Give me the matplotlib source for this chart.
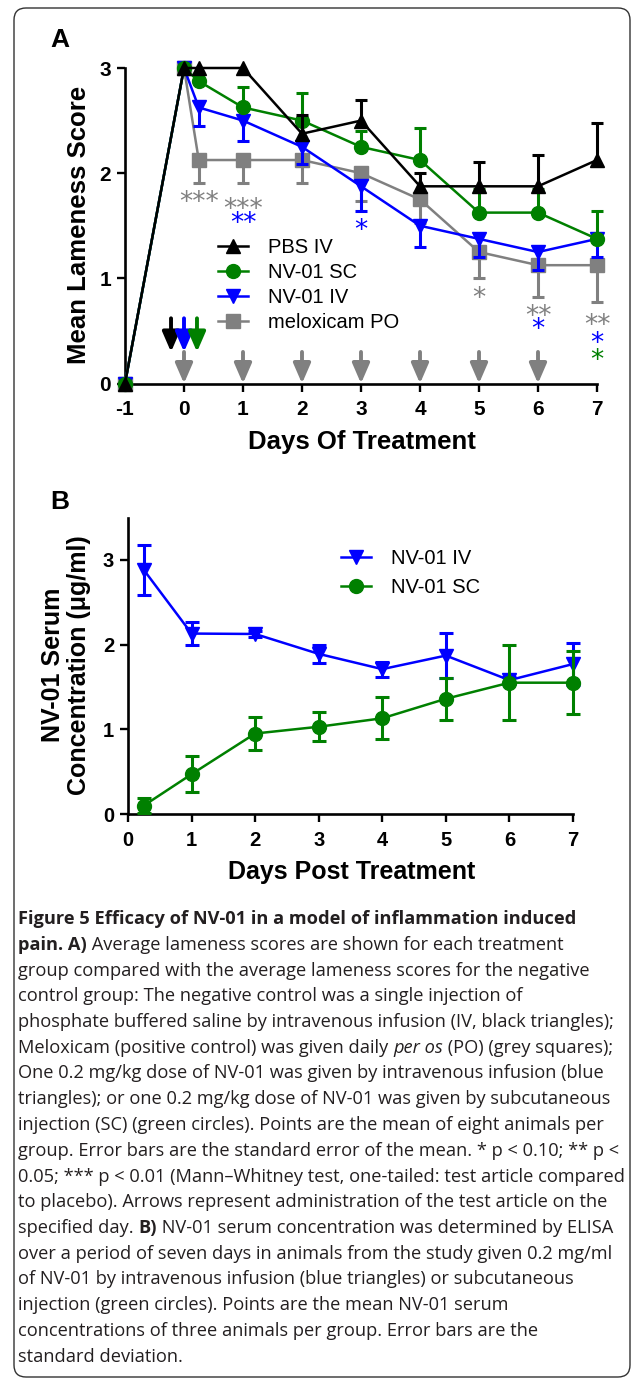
import matplotlib
matplotlib.use('Agg')
import matplotlib.pyplot as plt
from matplotlib.patches import FancyBboxPatch
from matplotlib.transforms import IdentityTransform
import numpy as np

plt.rcParams['font.family'] = ['Liberation Sans', 'DejaVu Sans']
plt.rcParams['axes.unicode_minus'] = False

# ---- panel A: mean lameness score (error = SEM, drawn one side only)
days_a = [-1, 0, 0.25, 1, 2, 3, 4, 5, 6, 7]
pbs_iv = [0, 3, 3, 3, 2.375, 2.5, 1.875, 1.875, 1.875, 2.125]
pbs_iv_err = [0, 0, 0, 0, 0.18, 0.2, 0.125, 0.23, 0.3, 0.35]
sc_a = [0, 3, 2.875, 2.625, 2.5, 2.25, 2.125, 1.625, 1.625, 1.375]
sc_a_err = [0, 0, 0, 0.19, 0.26, 0.15, 0.3, 0.22, 0.22, 0.27]
iv_a = [0, 3, 2.625, 2.5, 2.25, 1.875, 1.5, 1.375, 1.25, 1.375]
iv_a_err = [0, 0, 0.18, 0.19, 0.16, 0.23, 0.2, 0.17, 0.17, 0.17]
melox = [0, 3, 2.125, 2.125, 2.125, 2.0, 1.75, 1.25, 1.125, 1.125]
melox_err = [0, 0, 0.22, 0.22, 0.22, 0.26, 0.22, 0.25, 0.3, 0.35]

# significance marks: day, height, text, group
star_day = [0.25, 1, 1, 3, 5, 6, 6, 7, 7, 7]
star_y = [1.80, 1.73, 1.60, 1.53, 0.89, 0.72, 0.59, 0.63, 0.46, 0.30]
star_txt = ['***', '***', '**', '*', '*', '**', '*', '**', '*', '*']
star_grp = ['melox', 'melox', 'iv', 'iv', 'melox', 'melox', 'iv', 'melox', 'iv', 'sc']

# dosing arrows
melox_dose_days = [0, 1, 2, 3, 4, 5, 6]
single_dose_days = [-0.22, 0.0, 0.22]
single_dose_grp = ['pbs', 'iv', 'sc']

# ---- panel B: serum concentration (ug/ml, error = SD)
days_b = [0.25, 1, 2, 3, 4, 5, 6, 7]
iv_b = [2.88, 2.13, 2.125, 1.89, 1.71, 1.87, 1.58, 1.77]
iv_b_sd = [0.3, 0.14, 0.03, 0.11, 0.09, 0.27, 0.04, 0.25]
sc_b = [0.1, 0.47, 0.95, 1.03, 1.13, 1.36, 1.55, 1.55]
sc_b_sd = [0.09, 0.21, 0.19, 0.17, 0.25, 0.25, 0.44, 0.37]

colors = {'pbs': 'black', 'sc': '#008000', 'iv': '#0000ff', 'melox': '#808080'}

W, H = 633, 1381
fig = plt.figure(figsize=(W / 100, H / 100), dpi=100)


def add_ax(left, top, right, bottom):
    return fig.add_axes([left / W, 1 - bottom / H, (right - left) / W, (bottom - top) / H])


def style(ax, size):
    for s in ('top', 'right'):
        ax.spines[s].set_visible(False)
    for s in ('left', 'bottom'):
        ax.spines[s].set_linewidth(1.9)
    ax.tick_params(axis='both', width=1.7, length=6, direction='out', labelsize=size)
    ax.tick_params(axis='x', pad=6)
    ax.tick_params(axis='y', pad=4)
    for lab in ax.get_xticklabels() + ax.get_yticklabels():
        lab.set_fontweight('bold')


def one_sided(ax, x, y, err, up, color, z):
    x, y, err = np.asarray(x), np.asarray(y), np.asarray(err)
    m = err > 0
    end = y + err if up else y - err
    ax.vlines(x[m], y[m], end[m], color=color, lw=2.2, zorder=z, clip_on=False)
    ax.plot(x[m], end[m], ls='none', marker='_', ms=9, mew=2.2, color=color,
            zorder=z, clip_on=False)


# ================= panel A
axA = add_ax(125, 68, 597, 383.5)
axA.set_xlim(-1, 7)
axA.set_ylim(0, 3)
axA.set_xticks(range(-1, 8))
axA.set_yticks([0, 1, 2, 3])
style(axA, 15)

series_a = [
    ('meloxicam PO', melox, melox_err, False, 'melox', 's', 9.5),
    ('NV-01 IV', iv_a, iv_a_err, False, 'iv', 'v', 10.5),
    ('NV-01 SC', sc_a, sc_a_err, True, 'sc', 'o', 10),
    ('PBS IV', pbs_iv, pbs_iv_err, True, 'pbs', '^', 10.5),
]
handles = {}
for i, (lab, y, e, up, g, mk, ms) in enumerate(series_a):
    z = 3 + i
    one_sided(axA, days_a, y, e, up, colors[g], z)
    h, = axA.plot(days_a, y, color=colors[g], marker=mk, ms=ms, lw=1.8,
                  zorder=z, clip_on=False, label=lab)
    handles[lab] = h

order = ['PBS IV', 'NV-01 SC', 'NV-01 IV', 'meloxicam PO']
axA.legend([handles[k] for k in order], order, loc='upper left',
           bbox_to_anchor=(218 / W, 1 - 238 / H), bbox_transform=fig.transFigure,
           frameon=False, fontsize=14.5, handlelength=1.5, handletextpad=1.0,
           labelspacing=0.3, borderpad=0, borderaxespad=0)

for d, y, s, g in zip(star_day, star_y, star_txt, star_grp):
    axA.text(d, y - 0.15, s, color=colors[g], fontsize=19, ha='center',
             va='baseline', family='DejaVu Sans', zorder=8)

arrow_kw = dict(arrowstyle='-|>,head_length=0.6,head_width=0.26',
                lw=2.8, shrinkA=0, shrinkB=0, mutation_scale=20)
for d in melox_dose_days:
    axA.annotate('', xy=(d, 0.0), xytext=(d, 0.30), annotation_clip=False,
                 arrowprops=dict(color=colors['melox'], **arrow_kw))
for d, g in zip(single_dose_days, single_dose_grp):
    axA.annotate('', xy=(d, 0.30), xytext=(d, 0.62), annotation_clip=False,
                 arrowprops=dict(color=colors[g], **arrow_kw))

fig.text(79 / W, 1 - 225 / H, 'Mean Lameness Score', rotation=90, ha='center',
         va='center', fontsize=18.5, fontweight='bold')
fig.text(362 / W, 1 - 442 / H, 'Days Of Treatment', ha='center', va='center',
         fontsize=18.5, fontweight='bold')
fig.text(60 / W, 1 - 40 / H, 'A', ha='center', va='center', fontsize=19,
         fontweight='bold')

# ================= panel B
axB = add_ax(128, 517.5, 573, 814)
axB.set_xlim(0, 7)
axB.set_ylim(0, 3.5)
axB.set_xticks(range(0, 8))
axB.set_yticks([0, 1, 2, 3])
style(axB, 14.5)

hb_iv = axB.errorbar(days_b, iv_b, yerr=iv_b_sd, color=colors['iv'], marker='v',
                     ms=10.5, lw=1.8, elinewidth=2.2, capsize=5, capthick=2.2,
                     zorder=3, clip_on=False, label='NV-01 IV')
hb_sc = axB.errorbar(days_b, sc_b, yerr=sc_b_sd, color=colors['sc'], marker='o',
                     ms=10, lw=1.8, elinewidth=2.2, capsize=5, capthick=2.2,
                     zorder=4, clip_on=False, label='NV-01 SC')
axB.legend([hb_iv[0], hb_sc[0]], ['NV-01 IV', 'NV-01 SC'], loc='upper left',
           bbox_to_anchor=(341 / W, 1 - 549 / H), bbox_transform=fig.transFigure,
           frameon=False, fontsize=14.5, handlelength=1.5, handletextpad=1.0,
           labelspacing=0.48, borderpad=0, borderaxespad=0)

fig.text(66 / W, 1 - 665 / H, 'NV-01 Serum\nConcentration (\u03bcg/ml)', rotation=90,
         ha='center', va='center', multialignment='center', fontsize=18,
         fontweight='bold', linespacing=1.15)
fig.text(352 / W, 1 - 872 / H, 'Days Post Treatment', ha='center', va='center',
         fontsize=18, fontweight='bold')
fig.text(60 / W, 1 - 502 / H, 'B', ha='center', va='center', fontsize=19,
         fontweight='bold')

# ================= caption
caption = [
    [('Figure 5 Efficacy of NV-01 in a model of inflammation induced', 'b')],
    [('pain. A)', 'b'), (' Average lameness scores are shown for each treatment', '')],
    [('group compared with the average lameness scores for the negative', '')],
    [('control group: The negative control was a single injection of', '')],
    [('phosphate buffered saline by intravenous infusion (IV, black triangles);', '')],
    [('Meloxicam (positive control) was given daily ', ''), ('per os', 'i'),
     (' (PO) (grey squares);', '')],
    [('One 0.2 mg/kg dose of NV-01 was given by intravenous infusion (blue', '')],
    [('triangles); or one 0.2 mg/kg dose of NV-01 was given by subcutaneous', '')],
    [('injection (SC) (green circles). Points are the mean of eight animals per', '')],
    [('group. Error bars are the standard error of the mean. * p < 0.10; ** p <', '')],
    [('0.05; *** p < 0.01 (Mann\u2013Whitney test, one-tailed: test article compared', '')],
    [('to placebo). Arrows represent administration of the test article on the', '')],
    [('specified day. ', ''), ('B)', 'b'),
     (' NV-01 serum concentration was determined by ELISA', '')],
    [('over a period of seven days in animals from the study given 0.2 mg/ml', '')],
    [('of NV-01 by intravenous infusion (blue triangles) or subcutaneous', '')],
    [('injection (green circles). Points are the mean NV-01 serum', '')],
    [('concentrations of three animals per group. Error bars are the', '')],
    [('standard deviation.', '')],
]

cap_font = ['Open Sans', 'DejaVu Sans']
r = fig.canvas.get_renderer()


def put_line(line, x, yb, fs):
    arts = []
    for txt, st in line:
        t = fig.text(x / W, 1 - yb / H, txt, family=cap_font, fontsize=fs,
                     ha='left', va='baseline', color='#231f20',
                     fontweight='bold' if st == 'b' else 'normal',
                     fontstyle='italic' if st == 'i' else 'normal')
        x += t.get_window_extent(r).width
        arts.append(t)
    return x, arts


# pick the caption size so that the widest line fills the frame
widest = 0
for line in caption:
    x_end, arts = put_line(line, 0, 0, 10)
    widest = max(widest, x_end)
    for a in arts:
        a.remove()
cap_fs = 10 * 609 / widest

for i, line in enumerate(caption):
    put_line(line, 18.0, 924 + i * 25.75, cap_fs)

frame = FancyBboxPatch((14, 4), 616, 1369, boxstyle='round,pad=0,rounding_size=12',
                       transform=IdentityTransform(), fill=False, ec='#333333', lw=1.0)
fig.add_artist(frame)

fig.savefig('out.png', dpi=100)
